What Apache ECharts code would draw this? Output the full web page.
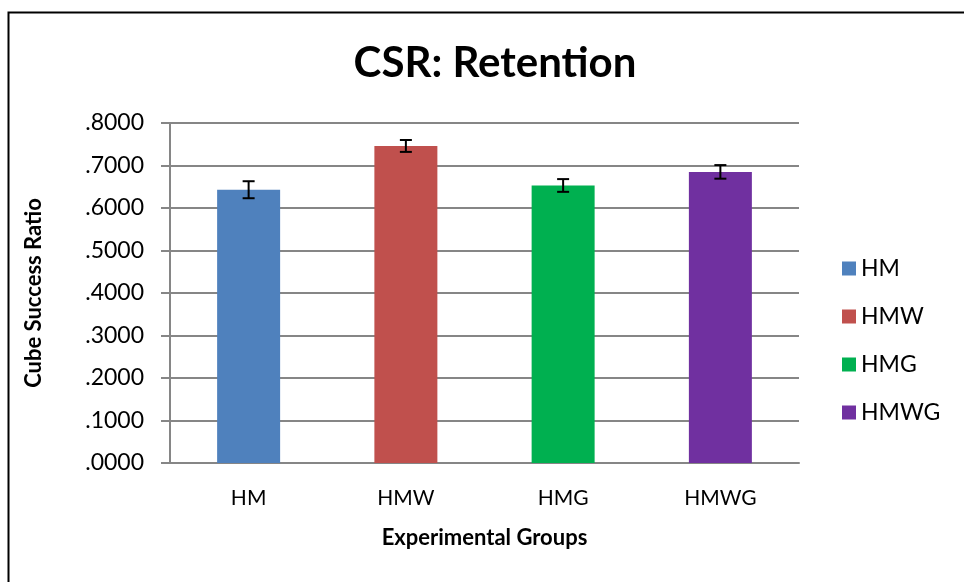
<!DOCTYPE html>
<html>
<head>
<meta charset="utf-8">
<script src="https://cdn.jsdelivr.net/npm/echarts@6/dist/echarts.min.js"></script>
<style>
  html, body { margin: 0; padding: 0; background: #fff; }
  #chart { width: 964px; height: 582px; }
</style>
</head>
<body>
<div id="chart"></div>
<script>
// values
const groups = ['HM', 'HMW', 'HMG', 'HMWG']
const means = [0.643, 0.746, 0.653, 0.685]
const errors = [0.020, 0.014, 0.015, 0.016]
const colors = ['#4F81BD', '#C0504D', '#00B050', '#7030A0']
const yTicks = [0, 0.1, 0.2, 0.3, 0.4, 0.5, 0.6, 0.7, 0.8]

const FONT = 'Lato, "Open Sans", sans-serif'

const chart = echarts.init(document.getElementById('chart'), null, { renderer: 'canvas' })

// one series per group so the legend shows every colour; stacked so each bar stays centred
const barSeries = groups.map((g, i) => ({
    name: g,
    type: 'bar',
    stack: 'groups',
    barWidth: 63,
    itemStyle: { color: colors[i] },
    data: groups.map((_, j) => (j === i ? means[i] : '-')),
    z: 2,
}))

const errorSeries = {
    type: 'custom',
    name: 'error',
    z: 5,
    data: groups.map((g, i) => [i, means[i] - errors[i], means[i] + errors[i]]),
    renderItem: (params, api) => {
        const lo = api.coord([api.value(0), api.value(1)])
        const hi = api.coord([api.value(0), api.value(2)])
        const half = 6
        const style = { stroke: '#000', lineWidth: 2 }
        return {
            type: 'group',
            children: [
                { type: 'line', shape: { x1: lo[0], y1: lo[1], x2: hi[0], y2: hi[1] }, style },
                { type: 'line', shape: { x1: lo[0] - half, y1: lo[1], x2: lo[0] + half, y2: lo[1] }, style },
                { type: 'line', shape: { x1: hi[0] - half, y1: hi[1], x2: hi[0] + half, y2: hi[1] }, style },
            ],
        }
    },
}

const options = {
    animation: false,
    textStyle: { fontFamily: FONT },
    title: {
        text: 'CSR: Retention',
        left: 490,
        textAlign: 'center',
        top: 37,
        textStyle: { fontFamily: FONT, fontSize: 42, fontWeight: 'bold', color: '#000' },
    },
    legend: {
        orient: 'vertical',
        left: 837,
        top: 252,
        itemWidth: 14,
        itemHeight: 14,
        itemGap: 25,
        itemTextGap: 6,
        data: groups,
        icon: 'rect',
        textStyle: { fontFamily: FONT, fontSize: 23, color: '#000', lineHeight: 23 },
    },
    grid: { left: 170, right: 165, top: 123, bottom: 119, containLabel: false },
    xAxis: {
        type: 'category',
        data: groups,
        name: 'Experimental Groups',
        nameLocation: 'middle',
        nameGap: 64,
        nameTextStyle: { fontFamily: FONT, fontSize: 22, fontWeight: 'bold', color: '#000' },
        axisLine: { lineStyle: { color: '#868686', width: 2 } },
        axisTick: { show: false },
        axisLabel: { fontFamily: FONT, fontSize: 21, color: '#000', margin: 25 },
    },
    yAxis: {
        type: 'value',
        min: 0,
        max: 0.8,
        interval: 0.1,
        name: 'Cube Success Ratio',
        nameLocation: 'middle',
        nameGap: 125,
        nameTextStyle: { fontFamily: FONT, fontSize: 22, fontWeight: 'bold', color: '#000' },
        axisLine: { show: true, lineStyle: { color: '#868686', width: 2 } },
        axisTick: { show: true, length: 9, lineStyle: { color: '#868686', width: 2 } },
        axisLabel: {
            fontFamily: FONT,
            fontSize: 23,
            color: '#000',
            margin: 26,
            formatter: (v) => {
                const t = yTicks.find((x) => Math.abs(x - v) < 1e-9)
                return (t === undefined ? v : t).toFixed(4).replace(/^0/, '')
            },
        },
        splitLine: { lineStyle: { color: '#868686', width: 2 } },
    },
    graphic: [
        {
            type: 'rect',
            left: 6,
            top: 10,
            shape: { x: 0, y: 0, width: 1000, height: 620 },
            style: { fill: 'none', stroke: '#000', lineWidth: 2 },
            silent: true,
            z: 100,
        },
    ],
    series: [...barSeries, errorSeries],
}

chart.setOption(options)
</script>
</body>
</html>
